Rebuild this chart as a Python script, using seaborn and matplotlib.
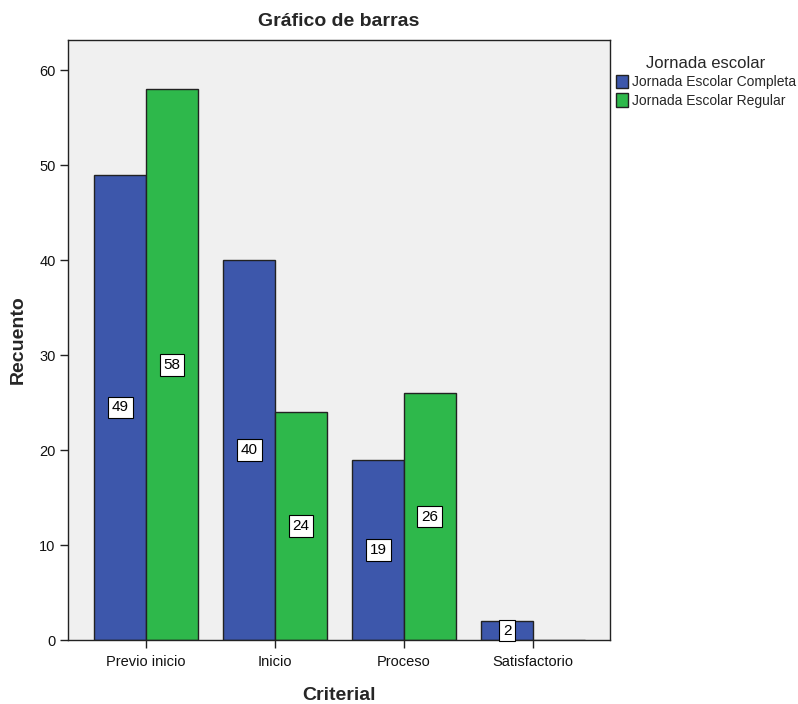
import matplotlib
matplotlib.use("Agg")
import matplotlib.pyplot as plt
import seaborn as sns
import pandas as pd
from matplotlib.patches import Patch

categories = ["Previo inicio", "Inicio", "Proceso", "Satisfactorio"]
completa = [49, 40, 19, 2]
regular = [58, 24, 26, 0]
series_names = ["Jornada Escolar Completa", "Jornada Escolar Regular"]
colors = ["#3D57AB", "#2EB84B"]

rows = []
for c, a, b in zip(categories, completa, regular):
    rows.append({"Criterial": c, "Jornada": series_names[0], "Recuento": a})
    rows.append({"Criterial": c, "Jornada": series_names[1], "Recuento": b})
df = pd.DataFrame(rows)

sns.set_style("white")
plt.rcParams['font.family'] = ['Liberation Sans', 'DejaVu Sans']

fig = plt.figure(figsize=(7.98, 7.04), dpi=100)
ax = fig.add_axes([68/798, 64/704, (610-68)/798, (640-40)/704])
ax.set_facecolor("#F0F0F0")

sns.barplot(data=df, x="Criterial", y="Recuento", hue="Jornada",
            order=categories, hue_order=series_names, palette=colors,
            saturation=1, width=0.8, edgecolor="#222222", linewidth=1.0,
            ax=ax, legend=False)

ax.set_xlim(-0.605, 3.597)
ax.set_ylim(0, 63.2)
ax.set_yticks([0, 10, 20, 30, 40, 50, 60])

for cont in ax.containers:
    for bar in cont:
        h = bar.get_height()
        if h > 0:
            ax.text(bar.get_x() + bar.get_width() / 2, h / 2, f"{int(h)}",
                    ha="center", va="center", fontsize=11, color="black",
                    bbox=dict(boxstyle="square,pad=0.25", fc="white", ec="black", lw=0.8))

for s in ax.spines.values():
    s.set_visible(True)
    s.set_color("#222222")
    s.set_linewidth(1.0)

ax.tick_params(axis="both", which="both", direction="out", length=6, width=1,
               bottom=True, left=True, color="#222222", labelsize=10.5,
               labelcolor="#111111")
ax.tick_params(axis="x", pad=5)
ax.tick_params(axis="y", pad=3)

ax.set_xlabel("Criterial", fontsize=14, fontweight="bold", labelpad=13)
ax.set_ylabel("Recuento", fontsize=14, fontweight="bold", labelpad=9)
ax.set_title("Gráfico de barras", fontsize=14, fontweight="bold", pad=10)

handles = [Patch(facecolor=colors[i], edgecolor="#222222", label=series_names[i]) for i in range(2)]
leg = fig.legend(handles=handles, title="Jornada escolar", loc="upper left",
                 bbox_to_anchor=(610/798, 1 - 50/704), frameon=False,
                 fontsize=10, title_fontsize=12, handlelength=0.9, handleheight=1.1,
                 handletextpad=0.3, labelspacing=0.3, borderaxespad=0)
leg._legend_box.align = "center"

fig.savefig("out.png", dpi=100)
